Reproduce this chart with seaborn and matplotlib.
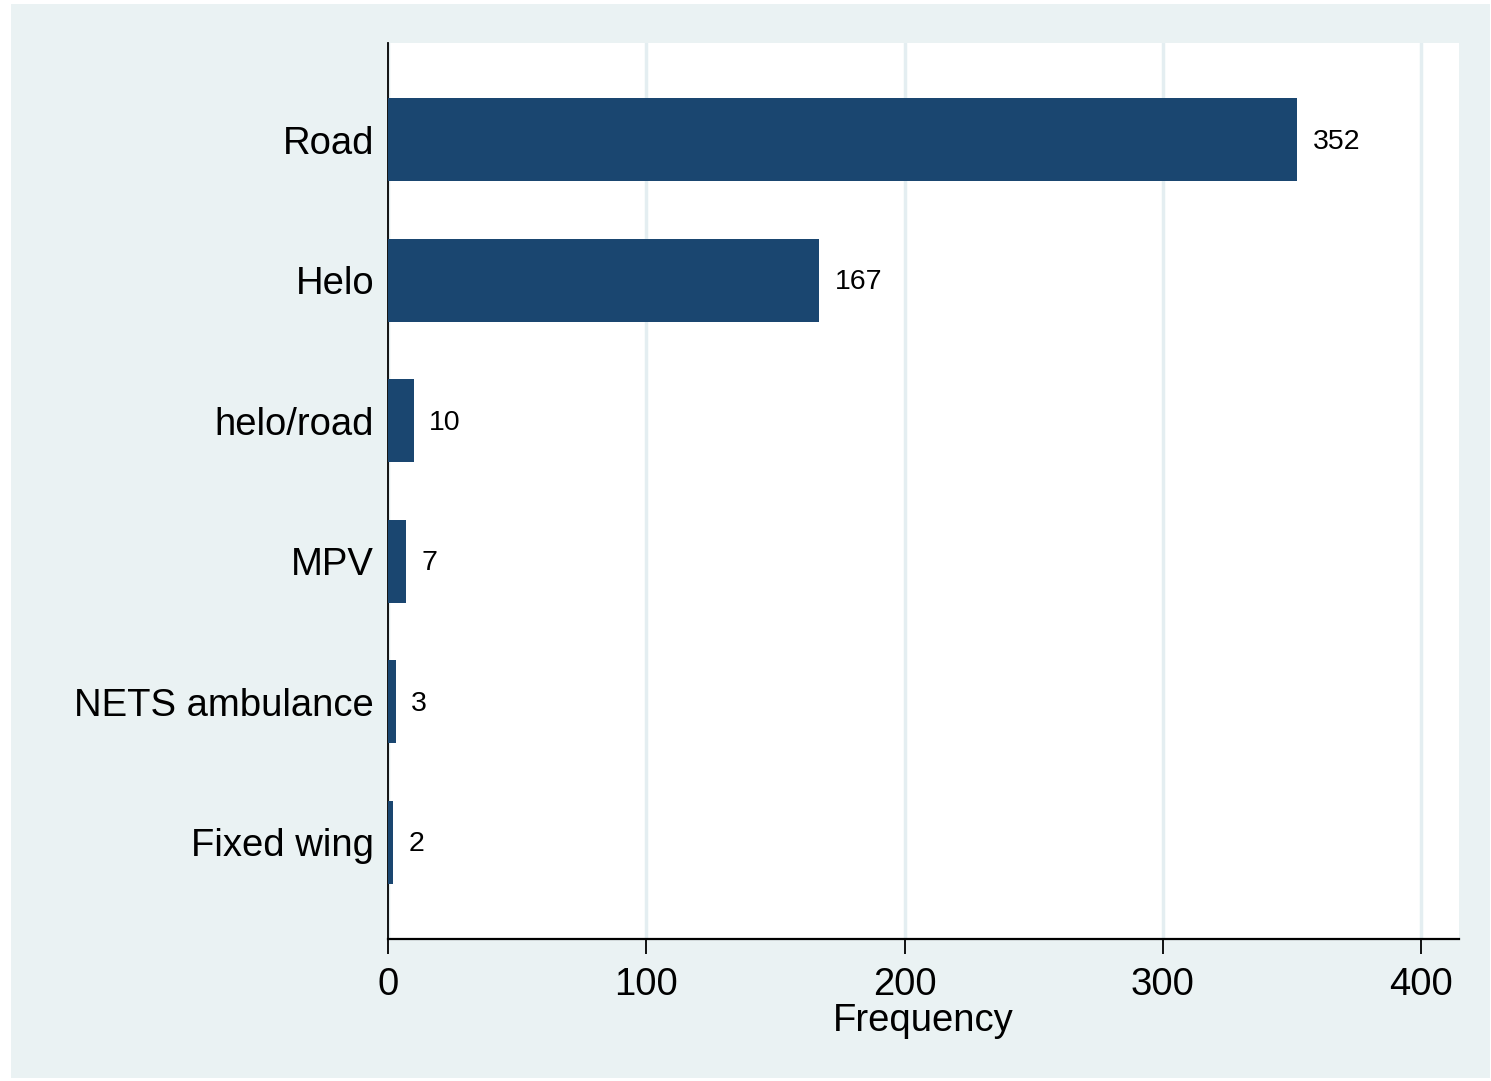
import matplotlib
matplotlib.use("Agg")
import matplotlib.pyplot as plt
import matplotlib.patches as mpatches
import seaborn as sns
import pandas as pd

categories = ["Road", "Helo", "helo/road", "MPV", "NETS ambulance", "Fixed wing"]
counts = [352, 167, 10, 7, 3, 2]
xticks = [0, 100, 200, 300, 400]

sns.set_theme(style="white")
plt.rcParams['font.family'] = ['Liberation Sans', 'DejaVu Sans']

df = pd.DataFrame({"category": categories, "count": counts})

fig = plt.figure(figsize=(14.91, 10.81), dpi=100)
fig.patch.set_facecolor("white")
bg = mpatches.Rectangle((11 / 1491, 3 / 1081), (1490 - 11) / 1491, (1077 - 3) / 1081,
                        transform=fig.transFigure, facecolor="#EAF2F3", edgecolor="none", zorder=-10)
fig.patches.append(bg)

ax = fig.add_axes([388 / 1491, (1081 - 939) / 1081, (1459 - 388) / 1491, (939 - 43) / 1081])
ax.set_facecolor("white")

sns.barplot(data=df, y="category", x="count", orient="h", color="#1A4670",
            saturation=1, width=0.59, ax=ax, zorder=3)
for p in ax.patches:
    p.set_edgecolor("none")

ax.set_xlim(0, 414.7)
ax.set_ylim(5.69, -0.69)
ax.set_xticks(xticks)
ax.set_xticklabels([str(t) for t in xticks])
ax.xaxis.grid(True, color="#E4EEF1", linewidth=2.5, zorder=0)
ax.yaxis.grid(False)
ax.set_axisbelow(True)

for i, v in enumerate(counts):
    ax.text(v + 6.0, i + 0.015, str(v), va="center", ha="left", fontsize=20.5, color="black")

ax.tick_params(axis="x", which="major", length=11, width=1.3, color="black",
               labelsize=27.5, pad=9, bottom=True, direction="out")
ax.tick_params(axis="y", length=0, labelsize=27.5, pad=10)
for lbl in ax.get_yticklabels():
    lbl.set_color("black")
for lbl in ax.get_xticklabels():
    lbl.set_color("black")

ax.set_ylabel("")
ax.set_xlabel("Frequency", fontsize=27.5, color="black", labelpad=0)

for s in ["top", "right"]:
    ax.spines[s].set_visible(False)
ax.spines["left"].set_color("black")
ax.spines["left"].set_linewidth(1.3)
ax.spines["bottom"].set_color("black")
ax.spines["bottom"].set_linewidth(1.6)

fig.savefig("out.png", dpi=100)
